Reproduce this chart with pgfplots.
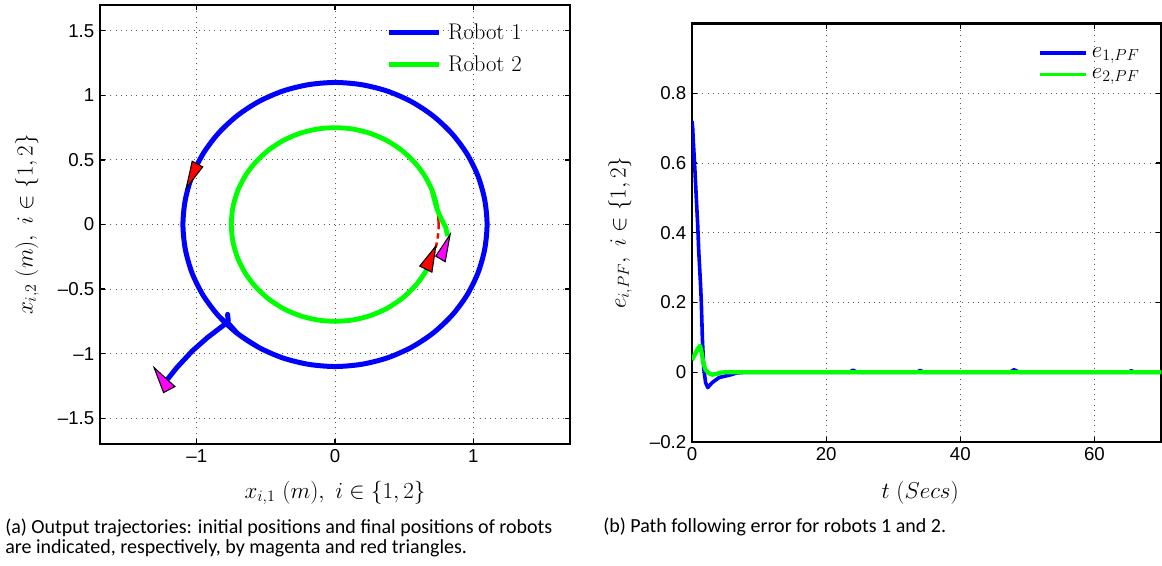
\documentclass[border=0pt]{standalone}
\usepackage[no-math]{fontspec}
\usepackage{pgfplots}
\pgfplotsset{compat=1.18}
\newfontfamily\tickfont{Liberation Sans}
\newfontfamily\capfont{Carlito}
\definecolor{mblue}{RGB}{0,0,255}
\definecolor{mgreen}{RGB}{0,255,0}
\definecolor{mred}{RGB}{255,0,0}
\definecolor{mmag}{RGB}{255,0,255}
\pgfplotsset{
  mstyle/.style={
    scale only axis,
    every axis/.append style={line width=2pt},
    axis line style={line width=2pt},
    tick align=inside,
    major tick length=4pt,
    tick style={black, line width=0.9pt},
    grid=major,
    major grid style={black!65, line width=0.7pt, dash pattern=on 0.7pt off 3.2pt},
    ticklabel style={font=\tickfont\fontsize{14}{14}\selectfont},
    label style={font=\fontsize{16.8}{18}\selectfont},
    legend style={draw=none, fill=none, font=\fontsize{17}{17}\selectfont, inner sep=0pt, nodes={inner sep=2pt}, column sep=2.7pt, row sep=6.5pt},
    legend cell align=left,
  }
}
\begin{document}
\begin{tikzpicture}
\useasboundingbox (0pt,0pt) rectangle (871.5pt,424.5pt);
% ---------------- left axis ----------------
\begin{axis}[mstyle, at={(75pt,91.5pt)}, anchor=south west, width=352.5pt, height=329.25pt,
  xmin=-1.7, xmax=1.7, ymin=-1.7, ymax=1.7,
  xtick={-1,0,1}, xticklabels={–1,0,1},
  ytick={-1.5,-1,-0.5,0,0.5,1,1.5}, yticklabels={–1.5,–1,–0.5,0,0.5,1,1.5},
  xlabel={$x_{i,1}\ (m),\ i\in\{1,2\}$},
  ylabel={$x_{i,2}\ (m),\ i\in\{1,2\}$},
  xlabel style={at={(axis description cs:0.5,-0.1116)}, anchor=center},
  ylabel style={at={(axis description cs:-0.155,0.5)}, anchor=center},
  legend style={at={(axis description cs:0.606,0.966)}, anchor=north west},
  legend image code/.code={\draw[#1] (0pt,0pt) -- (38pt,0pt);},
]
% reference circles (red dashed)
\addplot[forget plot, mred, smooth, line width=1.8pt, dash pattern=on 4pt off 3pt] coordinates {
(1.100,0) (1.083,0.191) (1.034,0.376) (0.953,0.550) (0.843,0.707) (0.707,0.843) (0.550,0.953) (0.376,1.034) (0.191,1.083) (0,1.100)
(-0.191,1.083) (-0.376,1.034) (-0.550,0.953) (-0.707,0.843) (-0.843,0.707) (-0.953,0.550) (-1.034,0.376) (-1.083,0.191) (-1.100,0)
(-1.083,-0.191) (-1.034,-0.376) (-0.953,-0.550) (-0.843,-0.707) (-0.707,-0.843) (-0.550,-0.953) (-0.376,-1.034) (-0.191,-1.083) (0,-1.100)
(0.191,-1.083) (0.376,-1.034) (0.550,-0.953) (0.707,-0.843) (0.843,-0.707) (0.953,-0.550) (1.034,-0.376) (1.083,-0.191) (1.100,0) (1.083,0.191)};
\addplot[forget plot, mred, smooth, line width=1.8pt, dash pattern=on 4pt off 3pt] coordinates {
(0.750,0) (0.739,0.130) (0.705,0.257) (0.650,0.375) (0.575,0.482) (0.482,0.575) (0.375,0.650) (0.257,0.705) (0.130,0.739) (0,0.750)
(-0.130,0.739) (-0.257,0.705) (-0.375,0.650) (-0.482,0.575) (-0.575,0.482) (-0.650,0.375) (-0.705,0.257) (-0.739,0.130) (-0.750,0)
(-0.739,-0.130) (-0.705,-0.257) (-0.650,-0.375) (-0.575,-0.482) (-0.482,-0.575) (-0.375,-0.650) (-0.257,-0.705) (-0.130,-0.739) (0,-0.750)
(0.130,-0.739) (0.257,-0.705) (0.375,-0.650) (0.482,-0.575) (0.575,-0.482) (0.650,-0.375) (0.705,-0.257) (0.739,-0.130) (0.750,0) (0.739,0.130)};
% Robot 1: approach segment, then the circle
\addplot[forget plot, mblue, line width=3.75pt, line join=round] coordinates {
(-1.212,-1.199) (-1.144,-1.108) (-1.033,-0.980) (-0.923,-0.876) (-0.813,-0.786) (-0.772,-0.748) (-0.777,-0.696) (-0.772,-0.765) (-0.707,-0.843)};
\addplot[mblue, smooth, line width=3.75pt, line join=round] coordinates {
(-0.843,-0.707) (-0.707,-0.843) (-0.550,-0.953) (-0.376,-1.034) (-0.191,-1.083) (0,-1.100)
(0.191,-1.083) (0.376,-1.034) (0.550,-0.953) (0.707,-0.843) (0.843,-0.707) (0.953,-0.550) (1.034,-0.376) (1.083,-0.191) (1.100,0)
(1.083,0.191) (1.034,0.376) (0.953,0.550) (0.843,0.707) (0.707,0.843) (0.550,0.953) (0.376,1.034) (0.191,1.083) (0,1.100)
(-0.191,1.083) (-0.376,1.034) (-0.550,0.953) (-0.707,0.843) (-0.843,0.707) (-0.953,0.550) (-1.034,0.376) (-1.083,0.191) (-1.100,0)
(-1.083,-0.191) (-1.034,-0.376) (-0.953,-0.550) (-0.843,-0.707) (-0.707,-0.843) (-0.550,-0.953)};
\addlegendentry{Robot 1}
% Robot 2: departure segment, then the circle
\addplot[forget plot, mgreen, line width=3.6pt, line join=round] coordinates {
(0.815,-0.090) (0.800,-0.020) (0.765,0.050) (0.735,0.130) (0.715,0.210) (0.705,0.257)};
\addplot[mgreen, smooth, line width=3.6pt, line join=round] coordinates {
(0.739,0.130) (0.705,0.257) (0.650,0.375) (0.575,0.482) (0.482,0.575) (0.375,0.650) (0.257,0.705) (0.130,0.739) (0,0.750)
(-0.130,0.739) (-0.257,0.705) (-0.375,0.650) (-0.482,0.575) (-0.575,0.482) (-0.650,0.375) (-0.705,0.257) (-0.739,0.130) (-0.750,0)
(-0.739,-0.130) (-0.705,-0.257) (-0.650,-0.375) (-0.575,-0.482) (-0.482,-0.575) (-0.375,-0.650) (-0.257,-0.705) (-0.130,-0.739) (0,-0.750)
(0.130,-0.739) (0.257,-0.705) (0.375,-0.650) (0.482,-0.575) (0.575,-0.482) (0.650,-0.375) (0.695,-0.280)};
\addlegendentry{Robot 2}
% initial (magenta) and final (red) positions
\addplot[forget plot, fill=mmag, draw=black, line width=0.8pt] coordinates {(-1.309,-1.108) (-1.158,-1.255) (-1.240,-1.302)} --cycle;
\addplot[forget plot, fill=mmag, draw=black, line width=0.8pt] coordinates {(0.833,-0.077) (0.729,-0.245) (0.797,-0.288)} --cycle;
\addplot[forget plot, fill=mred, draw=black, line width=0.8pt] coordinates {(-1.033,0.490) (-0.957,0.446) (-1.075,0.284)} --cycle;
\addplot[forget plot, fill=mred, draw=black, line width=0.8pt] coordinates {(0.729,-0.168) (0.613,-0.322) (0.701,-0.369)} --cycle;
\end{axis}
% ---------------- right axis ----------------
\begin{axis}[mstyle, at={(519pt,93pt)}, anchor=south west, width=352.1pt, height=313.9pt,
  xmin=0, xmax=70, ymin=-0.2, ymax=1,
  xtick={0,20,40,60}, xticklabels={0,20,40,60},
  ytick={-0.2,0,0.2,0.4,0.6,0.8}, yticklabels={–0.2,0,0.2,0.4,0.6,0.8},
  xlabel={$t\ (Secs)$},
  ylabel={$e_{i,PF},\ i\in\{1,2\}$},
  xlabel style={at={(axis description cs:0.486,-0.122)}, anchor=center},
  ylabel style={at={(axis description cs:-0.153,0.5)}, anchor=center},
  legend style={at={(axis description cs:0.734,0.953)}, anchor=north west, row sep=3pt, column sep=1.5pt, font=\fontsize{18.5}{18.5}\selectfont},
  legend image code/.code={\draw[#1, line width=2.4pt] (0pt,0pt) -- (34.5pt,0pt);},
]
\addplot[mblue, line width=2.7pt, line join=round] coordinates {
(0,0.72) (0.1,0.70) (0.22,0.653) (0.43,0.581) (0.64,0.50) (0.85,0.422) (1.01,0.345) (1.28,0.249) (1.39,0.2) (1.55,0.095)
(1.76,0.009) (2.03,-0.03) (2.35,-0.044) (2.99,-0.03) (4.05,-0.015) (5.65,-0.008) (6.7,-0.002) (8,0)
(23.5,0) (24,0.006) (24.6,0) (33.5,0) (34,0.005) (34.6,0) (47.4,0) (48,0.007) (48.8,0) (65,0) (65.5,0.004) (66,0) (70,0)};
\addlegendentry{$e_{1,PF}$}
\addplot[mgreen, line width=3.2pt, line join=round] coordinates {
(0,0.035) (0.4,0.050) (0.8,0.065) (1.2,0.076) (1.45,0.055) (1.7,0.025) (2.0,0.008) (2.5,-0.003) (3.0,-0.007) (3.6,-0.005) (4.3,-0.001) (5,0) (70,0)};
\addlegendentry{$e_{2,PF}$}
\end{axis}
% captions
\node[anchor=base west, inner sep=0pt, font=\capfont\fontsize{15}{15}\selectfont] at (3.75pt,24pt) {(a) Output trajectories: initial positions and final positions of robots};
\node[anchor=base west, inner sep=0pt, font=\capfont\fontsize{15}{15}\selectfont] at (3.75pt,9pt) {are indicated, respectively, by magenta and red triangles.};
\node[anchor=base west, inner sep=0pt, font=\capfont\fontsize{15}{15}\selectfont] at (452.25pt,24.75pt) {(b) Path following error for robots 1 and 2.};
\end{tikzpicture}
\end{document}
